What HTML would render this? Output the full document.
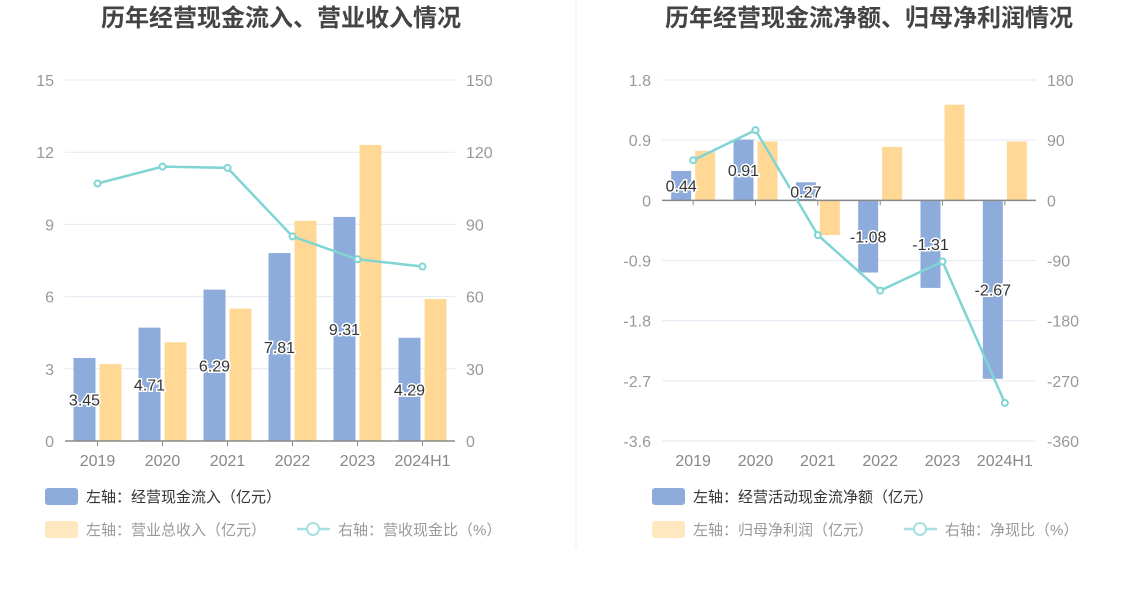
<!DOCTYPE html>
<html><head><meta charset="utf-8"><style>
body{margin:0;background:#fff;width:1147px;height:589px;overflow:hidden;font-family:"Liberation Sans","Noto Sans CJK SC",sans-serif;}
svg text{font-family:"Liberation Sans","Noto Sans CJK SC",sans-serif;}
</style></head><body>
<svg id="s" width="1147" height="589">
<line x1="576" y1="0" x2="576" y2="548" stroke="#eee"/>
<text x="281" y="26" text-anchor="middle" font-size="24" font-weight="bold" fill="#444">历年经营现金流入、营业收入情况</text>
<text x="869" y="26" text-anchor="middle" font-size="24" font-weight="bold" fill="#444">历年经营现金流净额、归母净利润情况</text>
</svg>
<script>
const cats=["2019","2020","2021","2022","2023","2024H1"];
const leftBlue=[3.45,4.71,6.29,7.81,9.31,4.29];
const leftYellow=[3.2,4.1,5.5,9.15,12.3,5.9];
const leftLine=[107,114,113.5,85,75.5,72.5];
const leftTicksL=[0,3,6,9,12,15];
const leftTicksR=[0,30,60,90,120,150];
const rightBlue=[0.44,0.91,0.27,-1.08,-1.31,-2.67];
const rightYellow=[0.74,0.88,-0.52,0.8,1.43,0.88];
const rightLine=[60,105,-52,-135,-91.5,-303];
const rightTicksL=[-3.6,-2.7,-1.8,-0.9,0,0.9,1.8];
const rightTicksR=[-360,-270,-180,-90,0,90,180];
const NS="http://www.w3.org/2000/svg";
const svg=document.getElementById('s');
function mk(t,a,txt){const e=document.createElementNS(NS,t);for(const k in a)e.setAttribute(k,a[k]);if(txt!=null)e.textContent=txt;svg.appendChild(e);return e;}
function chart(o){
 const {x0,x1,yTop,yBot,lmin,lmax,rmin,rmax}=o;
 const yL=v=>yBot-(v-lmin)/(lmax-lmin)*(yBot-yTop);
 const yR=v=>yBot-(v-rmin)/(rmax-rmin)*(yBot-yTop);
 const cw=(x1-x0)/cats.length;
 const cx=i=>x0+cw*(i+0.5);
 o.tl.forEach((t,i)=>{const y=yL(t);
  let g=mk('line',{x1:x0,x2:x1,y1:y,y2:y,stroke:'#e6e9f2'});
  
  let a=mk('text',{x:x0-11,y:y+6,'text-anchor':'end','font-size':16,fill:'#999'},String(t));
  
  let b=mk('text',{x:x1+11,y:yR(o.tr[i])+6,'font-size':16,fill:'#999'},String(o.tr[i]));
  
 });
 const z=yL(Math.max(0,lmin));
 cats.forEach((c,i)=>{
  const bv=o.blue[i],yv=o.yellow[i];
  let r1=mk('rect',{x:cx(i)-o.bw-o.gap,y:Math.min(yL(bv),z),width:o.bw,height:Math.abs(yL(bv)-z),fill:'#8eacdb'});
  
  let r2=mk('rect',{x:cx(i)+o.gap,y:Math.min(yL(yv),z),width:o.bw,height:Math.abs(yL(yv)-z),fill:'#ffd895'});
  
 });
 let ax=mk('line',{x1:x0,x2:x1,y1:z,y2:z,stroke:'#888','stroke-width':1.5});
 
 cats.forEach((c,i)=>{
  let tk=mk('line',{x1:cx(i),x2:cx(i),y1:z,y2:z+5,stroke:'#888'});
  
  let t=mk('text',{x:cx(i),y:yBot+25,'text-anchor':'middle','font-size':16,fill:'#888'},c);
  
 });
 const pts=o.line.map((v,i)=>cx(i)+','+yR(v)).join(' ');
 let pl=mk('polyline',{points:pts,fill:'none',stroke:'#7fd4d4','stroke-width':2.5});
 
 o.line.forEach((v,i)=>{let p=mk('circle',{cx:cx(i),cy:yR(v),r:3,fill:'#fff',stroke:'#7fd4d4','stroke-width':2});
  });
 cats.forEach((c,i)=>{const bv=o.blue[i];
  const yy=(yL(bv)+z)/2+6;
  let t=mk('text',{x:cx(i)-o.bw/2-o.gap,y:yy,'text-anchor':'middle','font-size':16,fill:'#333',stroke:'#fff','stroke-width':3,'paint-order':'stroke'},bv.toFixed(2));
  
 });
}
chart({x0:65,x1:455,yTop:80,yBot:441,lmin:0,lmax:15,rmin:0,rmax:150,tl:leftTicksL,tr:leftTicksR,blue:leftBlue,yellow:leftYellow,line:leftLine,bw:22,gap:2});
chart({x0:662,x1:1036,yTop:80,yBot:441,lmin:-3.6,lmax:1.8,rmin:-360,rmax:180,tl:rightTicksL,tr:rightTicksR,blue:rightBlue,yellow:rightYellow,line:rightLine,bw:20,gap:2});
function legend(x,y,color,txt,tc,kind){
 if(kind==='line'){let l=mk('line',{x1:x,x2:x+33,y1:y,y2:y,stroke:'#a8e0e0','stroke-width':2.5});
  let c=mk('circle',{cx:x+16,cy:y,r:6,fill:'#fff',stroke:'#a8e0e0','stroke-width':2});}
 else{let r=mk('rect',{x:x,y:y-8,width:33,height:17,rx:3,fill:color});}
 let t=mk('text',{x:x+41,y:y+6,'font-size':15,fill:tc},txt);
 
}
legend(45,496,'#8eacdb','左轴：经营现金流入（亿元）','#333');
legend(45,529,'#ffe7bf','左轴：营业总收入（亿元）','#999');
legend(297,529,'','右轴：营收现金比（%）','#999','line');
legend(652,496,'#8eacdb','左轴：经营活动现金流净额（亿元）','#333');
legend(652,529,'#ffe7bf','左轴：归母净利润（亿元）','#999');
legend(904,529,'','右轴：净现比（%）','#999','line');
</script>
</body></html>
